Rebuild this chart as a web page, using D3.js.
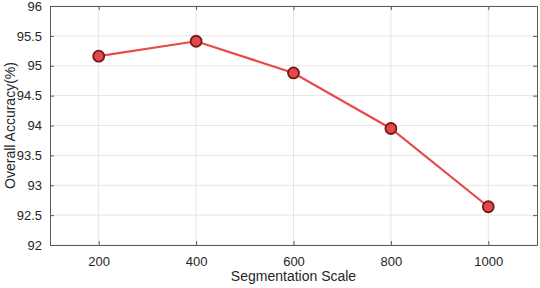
<!DOCTYPE html>
<html>
<head>
<meta charset="utf-8">
<script src="https://cdn.jsdelivr.net/npm/d3@7"></script>
<style>
  body { margin: 0; background: #fff; }
  svg { display: block; font-family: "Liberation Sans", Arial, sans-serif; }
</style>
</head>
<body>
<svg id="chart"></svg>
<script>
const scales = [200, 400, 600, 800, 1000]
const accuracy = [95.16, 95.41, 94.88, 93.95, 92.64]
const xTicks = [200, 400, 600, 800, 1000]
const yTicks = [92, 92.5, 93, 93.5, 94, 94.5, 95, 95.5, 96]

const width = 540, height = 288
const margin = {left: 50, right: 3, top: 6, bottom: 43}
const innerW = width - margin.left - margin.right
const innerH = height - margin.top - margin.bottom

const svg = d3.select("#chart").attr("width", width).attr("height", height)
const g = svg.append("g").attr("transform", `translate(${margin.left},${margin.top})`)

const x = d3.scaleLinear().domain([100, 1100]).range([0, innerW])
const y = d3.scaleLinear().domain([92, 96]).range([innerH, 0])

// grid
g.append("g").selectAll("line").data(xTicks).join("line")
    .attr("x1", d => x(d)).attr("x2", d => x(d))
    .attr("y1", 0).attr("y2", innerH)
    .attr("stroke", "#e6e6e6").attr("stroke-width", 1)
g.append("g").selectAll("line").data(yTicks).join("line")
    .attr("x1", 0).attr("x2", innerW)
    .attr("y1", d => y(d)).attr("y2", d => y(d))
    .attr("stroke", "#e6e6e6").attr("stroke-width", 1)

// axes (inward ticks, matlab style)
const axColor = "#262626"
const boxColor = "#5a5a5a"
const xAxis = g.append("g").attr("transform", `translate(0,${innerH})`)
    .call(d3.axisBottom(x).tickValues(xTicks).tickSizeInner(-4).tickSizeOuter(0).tickPadding(12).tickFormat(d3.format("d")))
const xTop = g.append("g")
    .call(d3.axisTop(x).tickValues(xTicks).tickSizeInner(-4).tickSizeOuter(0).tickFormat(""))
const yAxis = g.append("g")
    .call(d3.axisLeft(y).tickValues(yTicks).tickSizeInner(-4).tickSizeOuter(0).tickPadding(8).tickFormat(d3.format("")))
const yRight = g.append("g").attr("transform", `translate(${innerW},0)`)
    .call(d3.axisRight(y).tickValues(yTicks).tickSizeInner(-4).tickSizeOuter(0).tickFormat(""))

for (const a of [xAxis, xTop, yAxis, yRight]) {
    a.select(".domain").attr("stroke", boxColor).attr("stroke-width", 1)
    a.selectAll(".tick line").attr("stroke", boxColor)
    a.selectAll(".tick text").attr("fill", axColor).attr("font-size", 13)
        .attr("font-family", "Liberation Sans, Arial, sans-serif")
}

// line
const line = d3.line().x((d, i) => x(scales[i])).y(d => y(d))
g.append("path")
    .attr("fill", "none")
    .attr("stroke", "#e8494b")
    .attr("stroke-width", 2.2)
    .attr("d", line(accuracy))

g.append("g").selectAll("circle").data(accuracy).join("circle")
    .attr("cx", (d, i) => x(scales[i]))
    .attr("cy", d => y(d))
    .attr("r", 5.5)
    .attr("fill", "#e04a4c")
    .attr("stroke", "#7a1616")
    .attr("stroke-width", 1.8)

// labels
svg.append("text")
    .attr("x", margin.left + innerW / 2)
    .attr("y", 281)
    .attr("text-anchor", "middle")
    .attr("font-size", 14)
    .attr("fill", axColor)
    .text("Segmentation Scale")

svg.append("text")
    .attr("transform", `translate(15,${margin.top + innerH / 2}) rotate(-90)`)
    .attr("text-anchor", "middle")
    .attr("font-size", 14)
    .attr("fill", axColor)
    .text("Overall Accuracy(%)")
</script>
</body>
</html>
